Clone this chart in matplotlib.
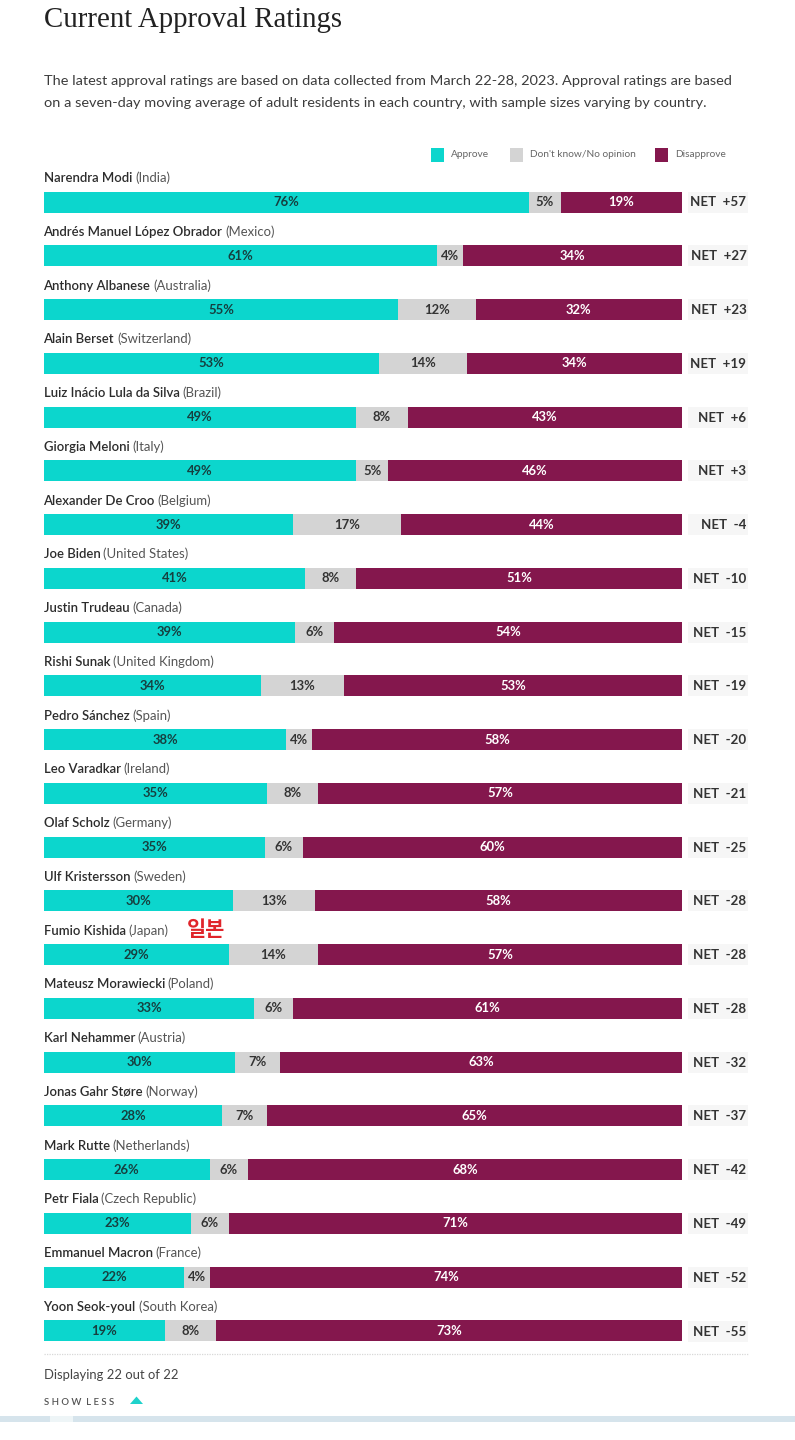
import matplotlib
matplotlib.use("Agg")
import matplotlib.pyplot as plt
from matplotlib.patches import Rectangle, Polygon

# ==========================================
# 1. Data
# ==========================================
LEADERS = ["Narendra Modi", "Andrés Manuel López Obrador", "Anthony Albanese", "Alain Berset",
           "Luiz Inácio Lula da Silva", "Giorgia Meloni", "Alexander De Croo", "Joe Biden",
           "Justin Trudeau", "Rishi Sunak", "Pedro Sánchez", "Leo Varadkar", "Olaf Scholz",
           "Ulf Kristersson", "Fumio Kishida", "Mateusz Morawiecki", "Karl Nehammer",
           "Jonas Gahr Støre", "Mark Rutte", "Petr Fiala", "Emmanuel Macron", "Yoon Seok-youl"]
COUNTRIES = ["India", "Mexico", "Australia", "Switzerland", "Brazil", "Italy", "Belgium",
             "United States", "Canada", "United Kingdom", "Spain", "Ireland", "Germany",
             "Sweden", "Japan", "Poland", "Austria", "Norway", "Netherlands",
             "Czech Republic", "France", "South Korea"]
APPROVE = [76, 61, 55, 53, 49, 49, 39, 41, 39, 34, 38, 35, 35, 30, 29, 33, 30, 28, 26, 23, 22, 19]
NO_OPINION = [5, 4, 12, 14, 8, 5, 17, 8, 6, 13, 4, 8, 6, 13, 14, 6, 7, 7, 6, 6, 4, 8]
DISAPPROVE = [19, 34, 32, 34, 43, 46, 44, 51, 54, 53, 58, 57, 60, 58, 57, 61, 63, 65, 68, 71, 74, 73]
NET = ["+57", "+27", "+23", "+19", "+6", "+3", "-4", "-10", "-15", "-19", "-20", "-21", "-25",
       "-28", "-28", "-28", "-32", "-37", "-42", "-49", "-52", "-55"]

TITLE = "Current Approval Ratings"
INTRO = ["The latest approval ratings are based on data collected from March 22-28, 2023. Approval ratings are based",
         "on a seven-day moving average of adult residents in each country, with sample sizes varying by country."]
LEGEND_LABELS = ["Approve", "Don't know/No opinion", "Disapprove"]

# ==========================================
# 2. Style
# ==========================================
W, H = 795, 1440
TEAL = "#0cd6cd"
GREY = "#d4d4d4"
MAROON = "#84174d"
plt.rcParams["font.family"] = ["Lato", "DejaVu Sans"]

fig = plt.figure(figsize=(W / 100, H / 100), dpi=100, facecolor="white")

# Page layer in pixel coordinates, for everything around the chart
page = fig.add_axes([0, 0, 1, 1])
page.set_xlim(0, W)
page.set_ylim(H, 0)
page.axis("off")

# Bars layer: x is share of respondents, y is row number
FIRST_ROW, ROW_STEP = 202, (1331 - 202) / 21
top_px = FIRST_ROW - ROW_STEP / 2
bottom_px = 1331 + ROW_STEP / 2
ax = fig.add_axes([43.7 / W, 1 - bottom_px / H, 638.3 / W, (bottom_px - top_px) / H])
ax.set_xlim(0, 100)
ax.set_ylim(21.5, -0.5)
ax.axis("off")
ax.patch.set_alpha(0)

# ==========================================
# 3. Header and legend
# ==========================================
page.text(43.5, 27, TITLE, fontsize=20.8, family="Liberation Serif", color="#222222", va="baseline")
page.text(43.5, 85, INTRO[0], fontsize=10.43, color="#3c3c3c", va="baseline")
page.text(43.5, 107, INTRO[1], fontsize=10.43, color="#3c3c3c", va="baseline")

for x0, color, label in zip([431, 510, 655], [TEAL, GREY, MAROON], LEGEND_LABELS):
    page.add_patch(Rectangle((x0, 147.5), 13, 14, color=color, lw=0))
    page.text(x0 + 20, 154.5, label, fontsize=7.3, color="#666666", va="center")

# ==========================================
# 4. Rows
# ==========================================
renderer = fig.canvas.get_renderer()
for i in range(len(LEADERS)):
    total = APPROVE[i] + NO_OPINION[i] + DISAPPROVE[i]
    left = 0
    for val, color, txt in zip([APPROVE[i], NO_OPINION[i], DISAPPROVE[i]],
                               [TEAL, GREY, MAROON], ["#163f3f", "#333333", "white"]):
        width = val / total * 100
        ax.barh(i, width, left=left, height=21 / ROW_STEP, color=color, lw=0)
        ax.text(left + width / 2, i, f"{val}%", ha="center", va="center", fontsize=9.4,
                color=txt, weight="bold")
        left += width

    y_mid = FIRST_ROW + i * ROW_STEP
    name = page.text(43.5, y_mid - 20, LEADERS[i], fontsize=9.45, color="#2c2c2c",
                     weight="semibold", va="baseline")
    end = name.get_window_extent(renderer).x1
    page.text(end + 3, y_mid - 20, f"({COUNTRIES[i]})", fontsize=9.45, color="#555555", va="baseline")

    page.add_patch(Rectangle((688, y_mid - 10.5), 60, 21, color="#f6f6f6", lw=0))
    page.text(746.5, y_mid + 0.5, f"NET  {NET[i]}", ha="right", va="center", fontsize=9.6,
              color="#333333", weight="bold")

# Red annotation next to the Japan row
page.text(206, 929, "일본", ha="center", va="center", fontsize=15, color="#e0242a",
          weight="bold", family=["Noto Sans CJK KR", "DejaVu Sans"])

# ==========================================
# 5. Footer
# ==========================================
page.plot([44, 748], [1354, 1354], color="#d8d8d8", lw=0.9, ls=(0, (1, 1)))
page.text(44, 1379, "Displaying 22 out of 22", fontsize=9.4, color="#444444", va="baseline")
page.text(44, 1405, "S H O W  L E S S", fontsize=6.9, color="#555555", va="baseline", weight="semibold")
page.add_patch(Polygon([[130, 1404], [143, 1404], [136.5, 1396.5]], color="#1fd2cb", lw=0))

page.add_patch(Rectangle((0, 1416), 795, 5.5, color="#d6e4ec", lw=0))
page.add_patch(Rectangle((50, 1416), 23, 5.5, color="#eef5f7", lw=0))

fig.savefig("out.png", dpi=100)
